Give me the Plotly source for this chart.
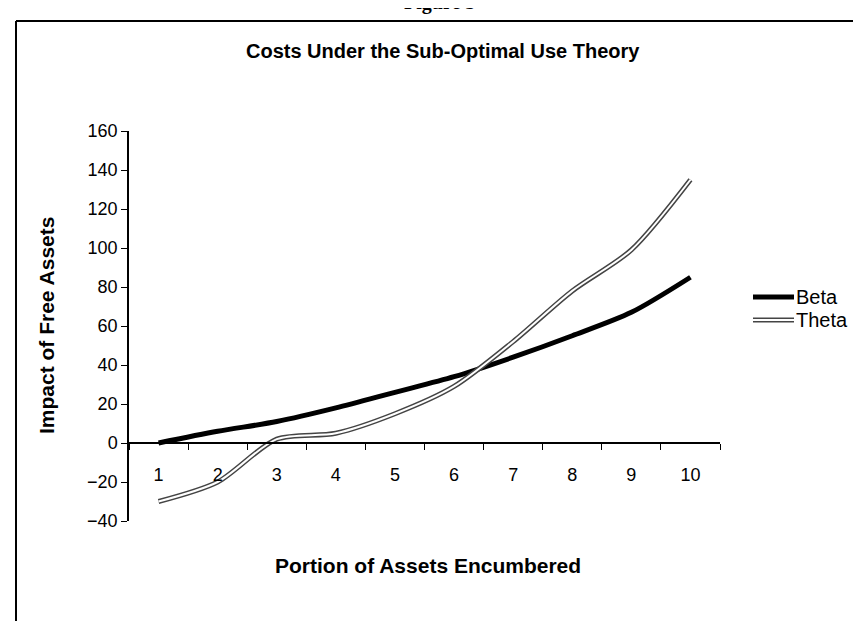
import plotly.graph_objects as go

categories = ["1", "2", "3", "4", "5", "6", "7", "8", "9", "10"]
beta = [0, 6, 11, 18, 26, 34, 44, 55, 67, 85]
theta = [-30, -20, 2, 5, 15, 29, 52, 78, 99, 135]
y_ticks = [-40, -20, 0, 20, 40, 60, 80, 100, 120, 140, 160]

W, H = 861, 621
L, R, T, B = 121, 149, 123, 108
PW, PH = W - L - R, H - T - B
YMIN, YMAX = -40, 160

def px(x):
    return (x - L) / PW

def py(y):
    return (H - B - y) / PH

FONT = "Liberation Sans, Arial, sans-serif"

fig = go.Figure()
fig.add_trace(go.Scatter(x=categories, y=beta, mode="lines", name="Beta",
                         line=dict(color="black", width=5, shape="spline", smoothing=0.8),
                         showlegend=False))
fig.add_trace(go.Scatter(x=categories, y=theta, mode="lines", name="Theta",
                         line=dict(color="#444444", width=5, shape="spline", smoothing=0.8),
                         showlegend=False))
fig.add_trace(go.Scatter(x=categories, y=theta, mode="lines", name="Theta inner",
                         line=dict(color="white", width=2, shape="spline", smoothing=0.8),
                         showlegend=False))

zero_pos = (0 - YMIN) / (YMAX - YMIN)

fig.update_layout(
    width=W, height=H,
    margin=dict(l=L, r=R, t=T, b=B),
    paper_bgcolor="white", plot_bgcolor="white",
    font=dict(family=FONT, color="black", size=18),
    xaxis=dict(type="category", anchor="free", position=zero_pos,
               showline=True, linecolor="black", linewidth=1.5,
               ticks="outside", tickson="boundaries", ticklen=6, tickcolor="black",
               ticklabelstandoff=16,
               showgrid=False, zeroline=False, tickfont=dict(size=18),
               range=[-0.5, len(categories) - 0.5]),
    yaxis=dict(range=[YMIN, YMAX], tickvals=y_ticks, showline=True, linecolor="black",
               linewidth=1.5, ticks="outside", ticklen=6, tickcolor="black",
               showgrid=False, zeroline=False, tickfont=dict(size=18)),
)

annotations = [
    dict(text="<b>Costs Under the Sub-Optimal Use Theory</b>", x=px(435), y=py(43),
         font=dict(size=20)),
    dict(text="<b>Figure 5</b>", x=px(432), y=py(-6), font=dict(size=20, family="Liberation Serif, serif")),
    dict(text="<b>Portion of Assets Encumbered</b>", x=px(420), y=py(557), font=dict(size=21)),
    dict(text="<b>Impact of Free Assets</b>", x=px(38), y=py(318), textangle=-90,
         font=dict(size=21)),
    dict(text="Beta", x=px(786), y=py(289), xanchor="left", font=dict(size=20)),
    dict(text="Theta", x=px(786), y=py(312), xanchor="left", font=dict(size=20)),
]
for a in annotations:
    a.setdefault("xanchor", "center")
    a.update(xref="paper", yref="paper", showarrow=False, yanchor="middle")
fig.update_layout(annotations=annotations)

shapes = [
    # outer frame (left and top edges)
    dict(type="line", x0=px(8), x1=px(8), y0=py(13), y1=py(640), line=dict(color="black", width=2)),
    dict(type="line", x0=px(8), x1=px(870), y0=py(13), y1=py(13), line=dict(color="black", width=2)),
    # legend samples
    dict(type="line", x0=px(745), x1=px(786), y0=py(289), y1=py(289), line=dict(color="black", width=5)),
    dict(type="line", x0=px(745), x1=px(786), y0=py(312), y1=py(312), line=dict(color="#444444", width=5)),
    dict(type="line", x0=px(745), x1=px(786), y0=py(312), y1=py(312), line=dict(color="white", width=2)),
]
for s in shapes:
    s.update(xref="paper", yref="paper", layer="above")
fig.update_layout(shapes=shapes)

fig.write_html("out.html")
